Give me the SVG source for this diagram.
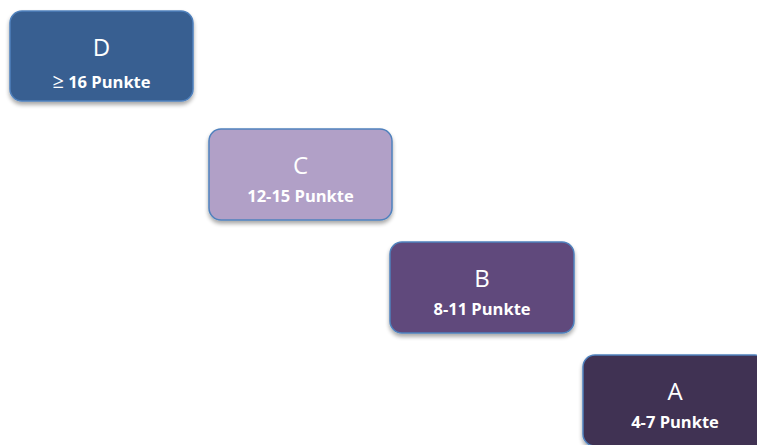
<svg xmlns="http://www.w3.org/2000/svg" width="757" height="445" viewBox="0 0 757 445">
<defs>
<filter id="sh" x="-10%" y="-10%" width="130%" height="140%">
<feGaussianBlur in="SourceAlpha" stdDeviation="2"/>
<feOffset dx="0" dy="3" result="b"/>
<feComponentTransfer><feFuncA type="linear" slope="0.35"/></feComponentTransfer>
<feMerge><feMergeNode/><feMergeNode in="SourceGraphic"/></feMerge>
</filter>
</defs>
<style>
.box{stroke:#4F81BD;stroke-width:1.5;filter:url(#sh)}
.l{font-family:"Open Sans","Liberation Sans",sans-serif;font-size:24px;fill:#fff;text-anchor:middle}
.s{font-family:"Open Sans","Liberation Sans",sans-serif;font-size:16.5px;font-weight:bold;fill:#fff;text-anchor:middle}
.g{font-weight:normal;font-size:20px}
</style>
<rect width="757" height="445" fill="#fff"/>
<g id="connectors"></g>
<g id="D">
<rect class="box" x="10" y="11" width="183" height="90" rx="12" fill="#375F91"/>
<text class="l" x="101.5" y="56">D</text>
<text class="s" x="101.5" y="88"><tspan class="g">≥</tspan> 16 Punkte</text>
</g>
<g id="C">
<rect class="box" x="209" y="129" width="183" height="91" rx="12" fill="#B1A0C7"/>
<text class="l" x="300.5" y="174">C</text>
<text class="s" x="300.5" y="202">12-15 Punkte</text>
</g>
<g id="B">
<rect class="box" x="390" y="242" width="184" height="91" rx="12" fill="#604A7B"/>
<text class="l" x="482" y="287">B</text>
<text class="s" x="482" y="315">8-11 Punkte</text>
</g>
<g id="A">
<rect class="box" x="583" y="355" width="184" height="91" rx="12" fill="#403152"/>
<text class="l" x="675" y="400">A</text>
<text class="s" x="675" y="428">4-7 Punkte</text>
</g>
</svg>
